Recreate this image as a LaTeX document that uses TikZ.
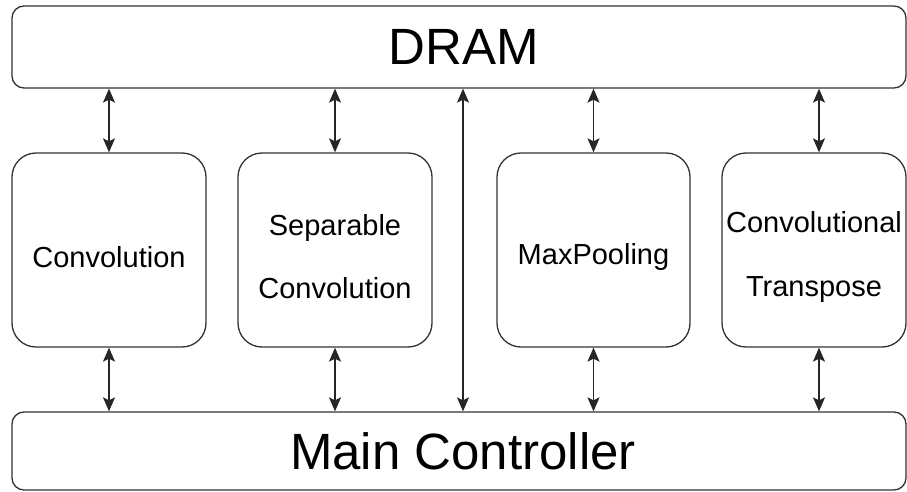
\documentclass[tikz,border=0pt]{standalone}
\usepackage{fontspec}
\setmainfont{Liberation Sans}
\usetikzlibrary{arrows.meta}
\begin{document}
\begin{tikzpicture}[x=1pt,y=-1pt,
  bus/.style={draw=black!80,line width=1.3pt,rounded corners=12pt,inner sep=0pt,
    minimum width=894pt},
  bustext/.style={inner sep=0pt,font=\fontsize{51}{51}\selectfont},
  unit/.style={draw=black!80,line width=1.3pt,rounded corners=24pt,inner sep=0pt,
    minimum height=194pt},
  unittext/.style={inner sep=0pt,align=center,font=\fontsize{29}{63}\selectfont},
  link/.style={draw=black!85,line width=1.5pt,{Stealth[length=14pt,width=12pt,inset=3pt]}-{Stealth[length=14pt,width=12pt,inset=3pt]}}]
\useasboundingbox (0,0) rectangle (907,492);
\fill[white] (0,0) rectangle (907,492);

% memory and controller
\node[bus,minimum height=82pt] (dram) at (459,47) {};
\node[bus,minimum height=78pt] (ctrl) at (459,451) {};
\node[bustext] (dramlbl) at ([xshift=5pt]dram.center) {DRAM};
\node[bustext] (ctrllbl) at ([xshift=4pt]ctrl.center) {Main Controller};

% processing units
\node[unit,minimum width=194pt] (conv) at (109,250) {};
\node[unit,minimum width=194pt] (sep)  at (335,250) {};
\node[unit,minimum width=193pt] (pool) at (593.5,250) {};
\node[unit,minimum width=184pt] (tconv) at (814,250) {};

% unit labels
\node[unittext] (convlbl)  at ([yshift=-7pt]conv.center) {Convolution};
\node[unittext] (seplbl)   at ([yshift=-7pt]sep.center) {Separable\\Convolution};
\node[unittext] (poollbl)  at ([yshift=-7pt]pool.center) {MaxPooling};
\node[unittext] (tconvlbl) at ([yshift=-7pt]tconv.center) {Convolutional\\Transpose};

% DRAM <-> units
\draw[link] (dram.south -| conv.north) -- (conv.north);
\draw[link] (dram.south -| sep.north) -- (sep.north);
\draw[link] (dram.south -| pool.north) -- (pool.north);
\draw[link] ([xshift=5pt]dram.south -| tconv.north) -- ([xshift=5pt]tconv.north);

% units <-> controller
\draw[link] (conv.south) -- (ctrl.north -| conv.south);
\draw[link] (sep.south) -- (ctrl.north -| sep.south);
\draw[link] (pool.south) -- (ctrl.north -| pool.south);
\draw[link] ([xshift=5pt]tconv.south) -- ([xshift=5pt]ctrl.north -| tconv.south);

% direct DRAM <-> controller path
\coordinate (mid) at (463,250);
\draw[link] (dram.south -| mid) -- (ctrl.north -| mid);
\end{tikzpicture}
\end{document}
